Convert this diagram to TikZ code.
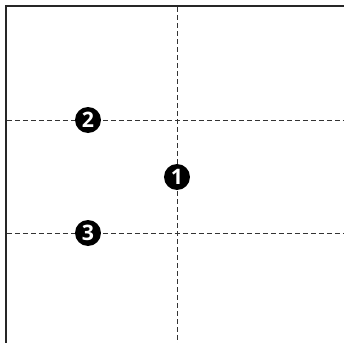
\documentclass[tikz,border=0pt]{standalone}
\usepackage{fontspec}
\setsansfont{Open Sans}
\usetikzlibrary{positioning}
\tikzset{
  marca/.style={circle, fill=black, text=white, inner sep=0pt, minimum size=19.5pt, font=\sffamily\bfseries\fontsize{16}{16}\selectfont},
  guia/.style={dashed, dash pattern=on 3.6pt off 2.4pt, line width=0.7pt, black!80},
  borda/.style={line width=1.6pt, black!85},
}
\begin{document}
\begin{tikzpicture}[x=0.75pt, y=-0.75pt]
  \useasboundingbox (0,0) rectangle (344,343);
  \coordinate (canto) at (6,6);
  \coordinate (topo) at (344,6);
  \coordinate (base) at (6,343);
  \coordinate (vtopo) at (177,7);
  \coordinate (vbase) at (177,343);
  \coordinate (h1a) at (7,120);
  \coordinate (h1b) at (344,120);
  \coordinate (h2a) at (7,233);
  \coordinate (h2b) at (344,233);
  \draw[guia] (vtopo) -- (vbase);
  \draw[guia] (h1a) -- (h1b);
  \draw[guia] (h2a) -- (h2b);
  \draw[borda] (topo) -- (canto) -- (base);
  \node[marca] (m1) at (177,177) {1};
  \node[marca] (m2) at (88,120) {2};
  \node[marca] (m3) at (88,233) {3};
\end{tikzpicture}
\end{document}
